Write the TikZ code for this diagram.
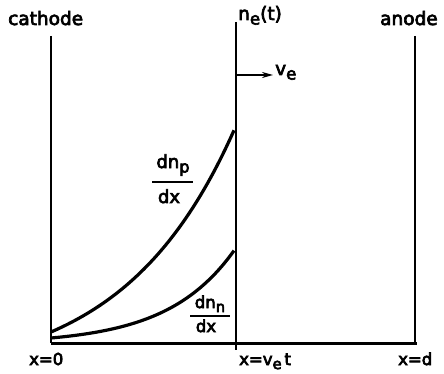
\documentclass[tikz,border=0pt]{standalone}
\usepackage{fontspec}
\setmainfont{DejaVu Sans}
\usetikzlibrary{arrows.meta}
\newcommand\lowsub[1]{\raisebox{-0.45ex}{\scalebox{0.9}{#1}}}
\newcommand\thick[1]{\special{pdf:literal q 2 Tr 0.7 w}#1\special{pdf:literal Q}}
\begin{document}
\begin{tikzpicture}[x=1pt,y=-1pt,
  wall/.style={line width=2.8pt},
  curve/.style={line width=3.2pt},
  fracrule/.style={line width=1.8pt},
  lbl/.style={inner sep=0pt, anchor=base west, font=\fontsize{18.5}{22}\selectfont},
  blbl/.style={inner sep=0pt, anchor=base west, font=\fontsize{16.5}{20}\selectfont},
  fracbig/.style={inner sep=0pt, anchor=base, font=\fontsize{18}{20}\selectfont},
  fracsmall/.style={inner sep=0pt, anchor=base, font=\fontsize{16.5}{20}\selectfont}]
\useasboundingbox (0,0) rectangle (444,374);
% walls
\coordinate (cT) at (51,36);  \coordinate (cB) at (51,343);
\coordinate (mT) at (236,22); \coordinate (mB) at (236,350);
\coordinate (aT) at (415,36); \coordinate (aB) at (415,343);
\coordinate (bR) at (417,343);
\draw[wall] (cT) -- (cB);
\draw[wall] (mT) -- (mB);
\draw[wall] (aT) -- (aB);
\draw[line width=3pt] (cB) -- (bR);
% arrow
\coordinate (mA) at (236,75); \coordinate (arrE) at (273,75);
\draw[line width=1.8pt, -{Stealth[length=11pt,width=6pt]}] (mA) -- (arrE);
% curves
\draw[curve] plot[domain=0:183,samples=60,smooth] ({51+\x},{343-(48.1*exp(0.009*\x)-37.1)});
\draw[curve] plot[domain=0:183,samples=60,smooth] ({51+\x},{343-(6*exp(0.015*\x)-1)});
% labels
\node[lbl] (cath) at (8,25) {\thick{cathode}};
\node[lbl] (an) at (380,25) {\thick{anode}};
\node[lbl] (ne) at (238,20) {\thick{n\lowsub{e}(t)}};
\node[lbl] (ve) at (275,75) {\thick{v\lowsub{e}}};
\node[blbl] (x0) at (29,365) {\thick{x=0}};
\node[blbl] (xv) at (239,365) {\thick{x=v\lowsub{e}\,t}};
\node[blbl] (xd) at (398,365) {\thick{x=d}};
% fraction dn_p/dx
\coordinate (pL) at (152,182); \coordinate (pR) at (193,182);
\draw[fracrule] (pL) -- (pR);
\node[fracbig] (pnum) at (173,168) {\thick{dn\lowsub{p}}};
\node[fracbig] (pden) at (169,203) {\thick{dx}};
% fraction dn_n/dx
\coordinate (nL) at (190,316); \coordinate (nR) at (230,316);
\draw[fracrule] (nL) -- (nR);
\node[fracsmall] (nnum) at (210,308) {\thick{dn\lowsub{n}}};
\node[fracsmall] (nden) at (206,332) {\thick{dx}};
\end{tikzpicture}
\end{document}
